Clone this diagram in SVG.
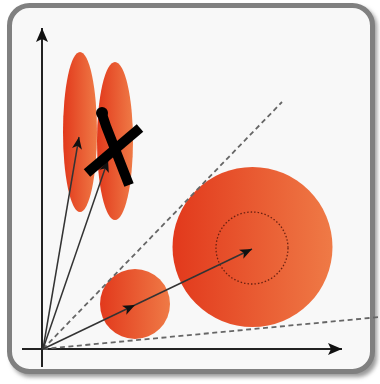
<svg xmlns="http://www.w3.org/2000/svg" width="380" height="384" viewBox="0 0 380 384">
<defs>
<linearGradient id="g" x1="0" y1="0" x2="1" y2="0">
<stop offset="0" stop-color="#e2391c"/>
<stop offset="1" stop-color="#ef7a46"/>
</linearGradient>
<filter id="sh" x="-10%" y="-10%" width="120%" height="120%">
<feGaussianBlur stdDeviation="2"/>
</filter>
<marker id="ah" viewBox="0 0 12 10" refX="12" refY="5" markerWidth="12" markerHeight="10" markerUnits="userSpaceOnUse" orient="auto">
<path d="M0,0 L12,5 L0,10 L3,5 Z" fill="#111"/>
</marker>
<marker id="ahb" viewBox="0 0 14 12" refX="14" refY="6" markerWidth="14" markerHeight="12" markerUnits="userSpaceOnUse" orient="auto">
<path d="M0,0 L14,6 L0,12 L3,6 Z" fill="#111"/>
</marker>
<style>
.axis{stroke:#222;stroke-width:2;fill:none}
.vec{stroke:#333;stroke-width:1.5;fill:none}
.dash{stroke:#666;stroke-width:1.8;stroke-dasharray:5,3.5;fill:none}
.blob{fill:url(#g)}
</style>
</defs>
<rect width="380" height="384" fill="#fff"/>
<rect x="11" y="7" width="366" height="370" rx="20" fill="#999" filter="url(#sh)"/>
<rect x="9.5" y="5.5" width="363" height="366" rx="20" fill="#f8f8f8" stroke="#808080" stroke-width="5"/>
<g id="ellipse1"><ellipse cx="80" cy="132" rx="17" ry="80" class="blob"/></g>
<g id="ellipse2"><ellipse cx="115" cy="141" rx="18" ry="79" class="blob"/></g>
<g id="circle-small"><circle cx="135" cy="304" r="35" class="blob"/></g>
<g id="circle-big"><circle cx="252.5" cy="247" r="80" class="blob"/>
<circle cx="252" cy="248" r="36" fill="none" stroke="#6a2010" stroke-width="1.3" stroke-dasharray="1.5,2"/></g>
<g id="connectors">
<line class="axis" x1="42" y1="367" x2="42" y2="28" marker-end="url(#ahb)"/>
<line class="axis" x1="22" y1="349" x2="342" y2="349" marker-end="url(#ahb)"/>
<line class="dash" x1="43" y1="349" x2="282" y2="102"/>
<line class="dash" x1="43" y1="349" x2="380" y2="317"/>
<line class="vec" x1="43" y1="349" x2="79" y2="137" marker-end="url(#ah)"/>
<line class="vec" x1="43" y1="349" x2="108" y2="160" marker-end="url(#ah)"/>
<line class="vec" x1="43" y1="349" x2="135" y2="305" marker-end="url(#ah)"/>
<line class="vec" x1="135" y1="305" x2="252" y2="249" marker-end="url(#ah)"/>
</g>
<g id="cross">
<path d="M102,114 L106,126 L129,185" stroke="#000" stroke-width="10" fill="none" stroke-linejoin="round"/>
<circle cx="102" cy="113" r="6" fill="#000"/>
<line x1="140" y1="128" x2="87" y2="173" stroke="#000" stroke-width="10"/>
</g>
</svg>
